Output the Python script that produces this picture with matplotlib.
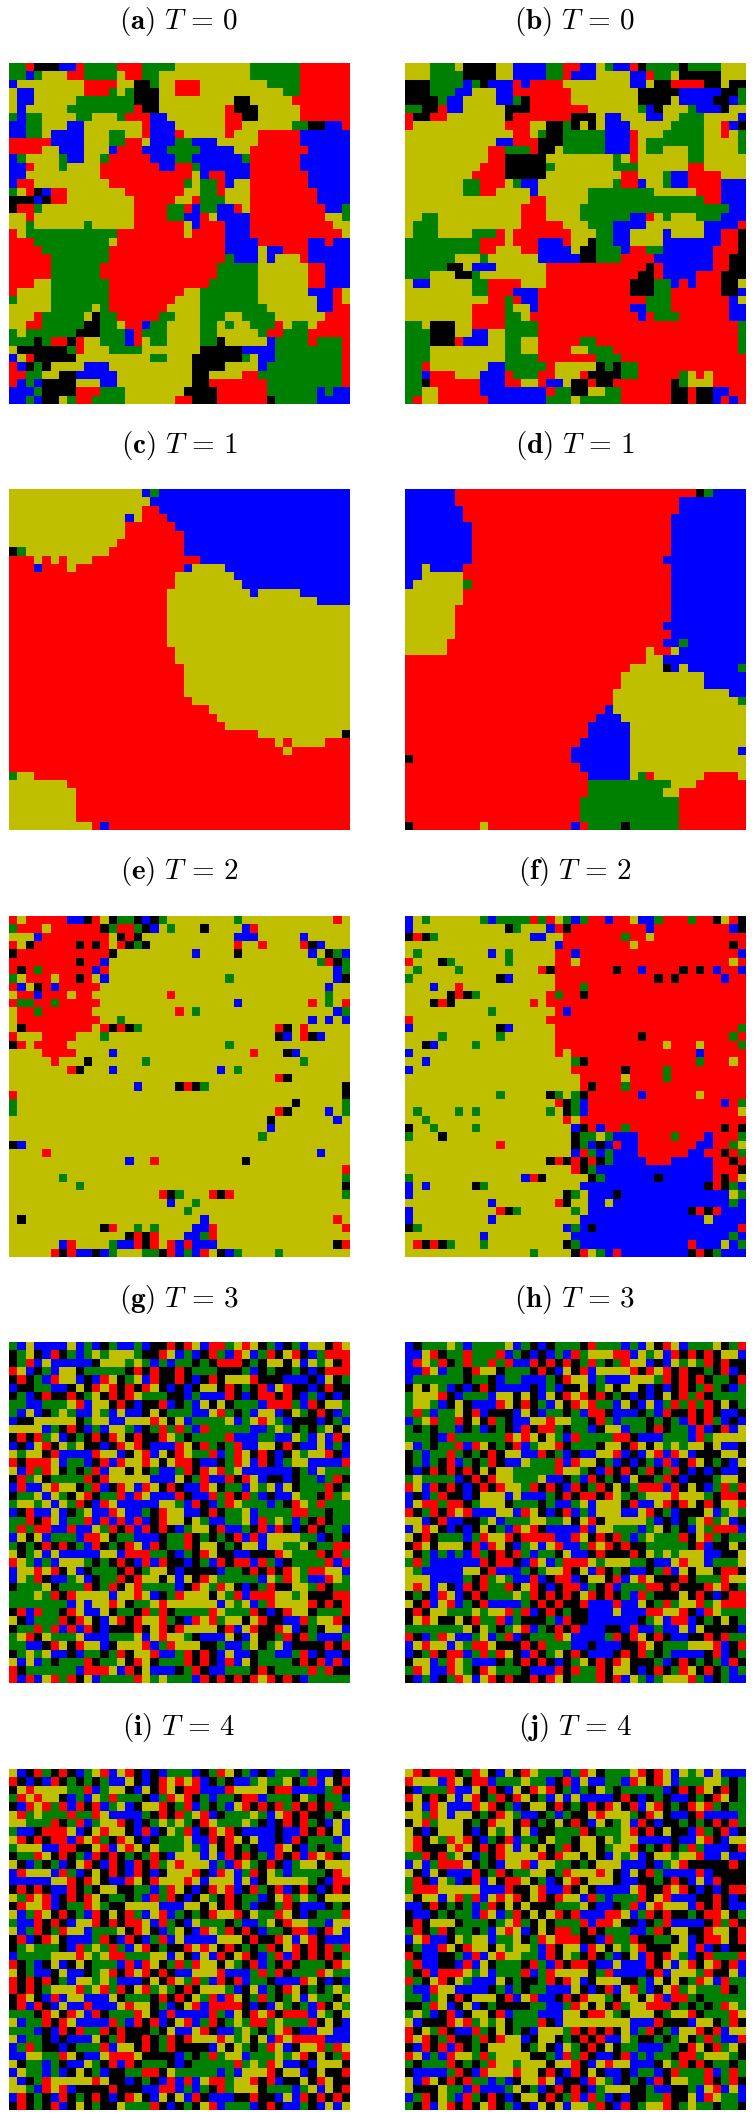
# -*- coding: utf-8 -*-
import numpy as np
import matplotlib
matplotlib.use('Agg')
import matplotlib.pyplot as plt
from matplotlib.colors import ListedColormap

# cell states, one letter per cell, spaces only to make the rows readable
STATES = 'yrgbk'
COLORS = ['#bfbf00', '#ff0000', '#008000', '#0000ff', '#000000']

PANEL_A = [
"gg r kkk bb r gggg rrr gggg yyyyyyyyy gggggg rrrrrr",
"gg b g yyy rr gggg y rr gg yyyyyyyyyyy gggggg rrrrrr",
"b yyyyyyyy rrrr yy kk g yy rrr yyyyyyyy gggg rrrrrr",
"y bb yyyyyy rrr g y g kkk yy rrr yyyyyyyyyy gg rrrrrr",
"y bb yyyyy ggggggg kkk yyyyyyyyy kk yyyyy rrrrrrr",
"y b yyyyy gggggggg r kk yyyyyyyy r kkk yyyyy rrrrrr",
"g b gg yyyy gg yyy g rrr bb yyyyyyy rr kk yyyyy rrrrrr",
"bb gg yyy bb yyyyyyy r bbb yyyyyy rr yyyyyy gg kk bb r",
"bb gg y bbbb yyy gg yy r bbb r yyyyy r yyy rrrrr bbbbbb",
"rrrrr bbbb yyy gg rr y bbb gg bbb yyyyy rrrrr bbbbbb",
"rrrr yy bbb yyy b rrr bbb gggg bbbb yy rrrrrrr bbbbb",
"b g yyyy g bb yy g rrrrr bbb gg bbbbbb g rrrrrr bbbbbb",
"bb r yyy g yyyy rrrrrrr bb rr g bbbbbb rrrrrr bbbbbb",
"bb yyyyyyyyy rrrrrrrrrrr y b rr bbb rrrrrrr bbbbb",
"b rr yyyyyyyyy rrrrrrrrr g y gg r b yy rrrrrrr bbbbb",
"g y r k b rr yyyyyyy rrrrrrr yy gg r yyy rrrrrrrr bbbb",
"kkk b k rr yyyyyyyy rrrrr yy r ggg yyy rrrrrrrr bbbb",
"k rr g yyyyyyyyyyy rrrr gg r b gg bb r y rrrrrrrrr bb g",
"yy r yyyyyyyyyyyy rrrr gg bb r y bbbb rrrrrrrrr yy g",
"yy g yyyyyy g yyyyy rrrrrr y b rrr bbb rrrrrrrrrr yy",
"r y ggggggggggg rrrrrrrr y rrrr bbb rrrrrrrrrrr y",
"rrr ggggggggg y rrrrrrrrrrrrr bbbb rrrrrr bb r bb",
"rrrr gggggggg rrrrrrrrrrrrrr bbbb y bb rrr bbbbb",
"rrrrr ggggggg rrrrrrrrrrrrrr g bbb y b yyy r bbbbb",
"rrrrr gggggg rrrrrrrrrrrrrr ggggg yyyyyy rr bbb",
"rrrrr gggggg rrrrrrrrrrrrrr ggggg yyyyyy rr bbb",
"rrr yy ggggggg rrrrrrrrrrrr gggggg yyyyyy rr bbb",
"r yyyy ggggggg rrrrrrrrr yy ggggggg yyyyyy bbb r y",
"g yyyy ggggggg rrrrrrrr yyy ggggggg yyyyyyy bb r y",
"yyyyy ggggg y g rrrrrrr yyyy gggggggg yyyyyy bb rr",
"yyy r ggggg y k gg rrrrr gg yyy ggg yy gggg yyyyyy rrr",
"yy rr ggggg kk gg y rr b gg yyyy gg y g yy ggg r y gg y rrrr",
"g y gggggg kkk ggg b r ggg yyyy gg yyyyy g rr ggg rrrrr",
"ggg k g rr k r yy ggg b r y gg yyyy gg k yyyyy b gggg r ggg r",
"y kkkkkk g r yyy gggg yyyyyyy kkkkk bbbb gggggggg r",
"b y r kkkkk yyyyyyyyy gg yyy kkkkkk g y bb gggggggg r",
"r b k g k yyyy bbb yyyyyyyyyy kkkk yyyy b ggggggggg r",
"rr gg yy kk bbbbb yyyyyyyyy kk yyyy rr gggggggggg r",
"r b g b kkkk yyy bb yyyyyyyyy kk rrrrrrr ggggggggg r",
"bbb g kkkk rrr ggg yyyyyyy kkkk rrrrrr gggggg b g bb",
"bb g b kk y g rr gggg yyyyyy rr kkk rrrrrr k ggggg bbbb",
]

PANEL_B = [
"yyy ggg y kkkk yy bbbb gg rr bb y g bb r k gggg k gggg yyy",
"yyy gggg kkkk yy bbbb gg r bbb yyyy bb r gg y kkkkk yyy",
"kkk gggg b g k bbb r b rrrr yyyyyyyy bb y kk rrrr kk y kk",
"kkk ggg bb yyy bb rrrrrrr yyyyyyyy kkkkk bbbbb kk g",
"kkkk g bb yyyy bb g k rrrrr yyyyyyyy kkkk y bbbb kk b g",
"gg kk r bb yyyyy kkk rrrrrrr yyyyyy g b k yyy g bbb k yy",
"r kk rr yyyyyyy k rrrrrrr kkk y bb yyy bb yy ggg yyyy b",
"r yyyyyyyyyyy rrr yy kk g k y k y bbb yyyyy gggg yy r b k",
"yyyyyyyyyyyyy rr y g kk ggggg bbb r yyy ggggg yy r y g",
"yyyyyyyyyyy bb rrr kkk ggggg bbb r y ggggggg yyyy g",
"yyyyyyyyyy rr ggg r kk y ggggg bbb r y gg yyy gg yyyy g",
"yyyyyyyyyy rr kkkkk yyyyyyyy g y r yyyyyy gg yyyyy",
"yyyyyyyyy rrr kkkkk g yyyyyyy ggg yyyyyy rr yyyyy",
"yyyyyyyy rrrr kkkkk yyyyyyyyy rr yyy g bb rrrr yyy",
"yyyyyyy gg rrr y g bb yyyyyyyyy g rr b yy g bb rrrr bbb",
"yyyyyyy gg rr yyyy b yyyyyy gggggggg yyyyy rrr bbb",
"yyyyyyyyyyyyyyy rr yyyyy gggggggggggggg rr bbb",
"yyyyyyyyyyyyyy rrr yyyy gggggggggggggggggg bb",
"yy gg yyyyyyyyyy rrr yyyy gggggg bb r y g yyy ggg bbb",
"y ggg yyyyyyyyyy rrrrr yyy ggg bbbb yyyyyyy bbbb r",
"y ggg yyyy ggg r y rrrrrrr yyy gg bb yyyy b yyyy bb rr k",
"ggggggggg rrr y rrr bbb r yy k gg bb yyyy bbbbbbb rr k",
"ggggggggg rr yyy rr bbbb y kk ggg b rr gg bbbbbb rrr k",
"gggggg yyy g yyyyyy bbbbb kk ggg rrrr bbbbbbb rr kk",
"ggggg kk y bbb yyyyyy rrrrrrrrrrrr k r bbbbbb rr kk",
"ggg yyy kk g yyyyyyyy rrrrrrrrrrr kk r bbbb rrr kkk",
"y bb yyyyy gg rrrr yyy rrrrrrrrrr kkk gg b r b rrr kk y",
"yyyyyyyy gg rrr bbb rrrrrrrrrrr kkk gg rrrrrr kk b",
"yyyyyyyyyy rr g r bb rrrrrrrrrrrrr ggg rrrrrrr b y",
"yyyyyyyy rrrr g yy b rrrrrrrrrrr bb ggg rrrrrrr bb",
"yyyyyyyy rrrr gg y rrrrrrrrrrrrr b r ggg rrrrrr bb",
"gg y kkk yy rrrr gggg rrrrrrrrrrrrrrrrrrrrrrrr g",
"ggg kkk yy bb yy gggg rrrrrrrrrrrrrrrrrrrrrrrr g",
"ggg kkk r bbb yy gg yy rrrrr gg rrrrrrrrrrrrrrrrr g",
"ggg yyyyyyyyy gg yy rrrr yy ggg rrrrrrrrrrrrrrr g",
"ggg yyyyyyyyy gggg rrrrrrr ggg rrrrrrrrrrrrrrr",
"gg r yyyyyyy bb ggggg r yyyyy k g k gg rrrrrrrrrrrrr",
"gg b rrr yyy bbb r ggg rr yyy r kkkk gg rrrrr g y r y rrrr",
"gg k rrrrrr bbb rr yy r bb y kk r kk rrrrrrr k g yyy rrrr",
"gg yy rrrrr bbbbbbbb r gg kk yy gg rrrrrr kk r kk bb rr",
"g r yy rrrrrr bbbbbbb ggg y ggggg rrrrrr kk r kk b r b r",
]

PANEL_C = [
"yyyyyyyyyyyyyyyy b g " + "b" * 23,
"y" * 17 + "b" * 24,
"y" * 16 + "rr" + "b" * 23,
"y" * 14 + "b y rrr" + "b" * 22,
"y" * 14 + "r" * 6 + "b" * 21,
"y" * 14 + "r" * 7 + "b" * 20,
"y" * 13 + "r" * 8 + "b" * 20,
"k g " + "y" * 10 + "r" * 9 + "b" * 20,
"rrr y r y r yyy " + "r" * 13 + "b" * 18,
"rrr b rrr y " + "r" * 13 + "b yyyy " + "b" * 15,
"r" * 20 + "y" * 7 + "b" * 14,
"r" * 20 + "y" * 8 + "b" * 13,
"r" * 19 + "y" * 10 + "b yyyyy bbbbbb",
"r" * 19 + "y" * 18 + "bbbb",
"r" * 19 + "y" * 22,
"r" * 19 + "y" * 22,
"r" * 19 + "y" * 22,
"r" * 19 + "y" * 22,
"r" * 19 + "y" * 22,
"r" * 20 + "y" * 21,
"r" * 20 + "y" * 21,
"r" * 21 + "y" * 20,
"r" * 21 + "y" * 20,
"r" * 21 + "y" * 20,
"r" * 21 + "y" * 20,
"r" * 22 + "y" * 19,
"r" * 24 + "y" * 17,
"r" * 25 + "y" * 16,
"r" * 26 + "y" * 15,
"r" * 30 + "y" * 10 + "k",
"r" * 32 + "y r yyyy rrr",
"r" * 33 + "y" + "r" * 7,
"r" * 41,
"r" * 41,
"g yy " + "r" * 38,
"y" * 7 + "r" * 34,
"y" * 8 + "r" * 33,
"y" * 8 + "r" * 33,
"y" * 8 + "r" * 33,
"y" * 8 + "r" * 33,
"y" * 10 + "r b " + "r" * 29,
]

PANEL_D = [
"b" * 6 + "r" * 29 + "k g bbbb",
"b" * 6 + "r" * 27 + "b" * 8,
"b" * 7 + "r" * 26 + "b" * 8,
"b" * 7 + "r" * 25 + "b" * 9,
"b" * 8 + "r" * 24 + "b" * 9,
"b" * 8 + "r" * 24 + "b" * 9,
"b" * 8 + "r" * 24 + "b" * 9,
"b" * 8 + "r" * 24 + "b" * 9,
"b" * 8 + "r" * 23 + "b" * 10,
"bb y bbbb " + "r" * 25 + "b" * 9,
"bb yyyyy " + "r" * 25 + "b" * 9,
"b yyyyyy g " + "r" * 24 + "b" * 9,
"y" * 7 + "r" * 25 + "b" * 9,
"y" * 7 + "r" * 25 + "b" * 9,
"y" * 6 + "r" * 26 + "b" * 9,
"y" * 6 + "r" * 26 + "b" * 9,
"y" * 6 + "r" * 25 + "b" * 10,
"y" * 6 + "r" * 26 + "b" * 9,
"y" * 5 + "r" * 26 + "bb g " + "b" * 7,
"y" * 5 + "r" * 24 + "y rr y " + "b" * 8,
"r" * 29 + "yy " + "b" * 10,
"r" * 27 + "yyyy k b y bbbbbb g",
"r" * 26 + "y" * 10 + "b" * 5,
"r" * 26 + "y" * 10 + "b" * 5,
"r" * 25 + "y" * 14 + "bb",
"r" * 25 + "y" * 15 + "g",
"r" * 24 + "b" + "y" * 16,
"r" * 23 + "bbb" + "y" * 15,
"r" * 22 + "b" * 5 + "y" * 14,
"r" * 22 + "b" * 5 + "y" * 14,
"r" * 21 + "b" * 6 + "y" * 14,
"r" * 20 + "b" * 7 + "y" * 13 + "b",
"k" + "r" * 19 + "b" * 7 + "y" * 14,
"r" * 21 + "b" * 6 + "y" * 14,
"r" * 22 + "b" * 5 + "y g r yyyyyy rrrr y",
"r" * 22 + "g" * 10 + "yyy rrrrrr",
"r" * 22 + "g" * 9 + "yy rrrrrrrr",
"r" * 21 + "g" * 12 + "r" * 8,
"r" * 21 + "g" * 12 + "r" * 8,
"r" * 21 + "g" * 12 + "r" * 8,
"k rrrrrrrr y rrrrrrrrrr b r gggg k gggggg rrrrrrrr",
]

PANEL_E = [
"r y rrrrr bb k r y k gg k b k g yyyyyyyy g yyyyyyyyyyy r y",
"g rrr y rrrrrr k g rr g k b y g yyy k yyyy b r yyyyyyyyyyy",
"yyy b rrrrrrrr y k r k yyyyyyyyyyy bbb yyyyy b yyyyy",
"r y k rrrrr k r k r y r k g k yyyyyyyyyy r yy r yyyy r k b yyy",
"k rrrrrrrrrrr k yyyyyyyyy b yyyy k yyyyyyyy b y k g b",
"rrrrrrrr k rr b yyyyyyyyyyyyyyyyyyyyyyyyy g r k g",
"r k r g rrrrrr b r yyyyyyyyyyyyyyyyyyyyyyyyyyy b g",
"g y rrr y rr k r y b yyyyyyyyyyyyyy g yyyyyyyyyyyy b k",
"r b y k r b rrrrr yyyyyyyyyyyyyyyyyyyyyyyyyyy b yy",
"y rr b rrr y rr yyyyyyyyy r yyyyyyyyyyyyyyyyyy g yy",
"r gg rr g rrrrr yyyyyyyyyyyyyyyy b yyyyyyyy r y g y r",
"y rr g rrrrrr yyyyyyyyyy r y g yyyyyyyyyyyyyyyy b g",
"y rrrrrrrrrr yy g yyyyyyyyyyyyyyyyyyyyyy b y b y b",
"y k rrrrrrrr y r k r k g yyyyyyyyyyyyyyyy r k y r yyyyy",
"r yyy rrrr yyy g yyyyyyyyyyyyyyyyyyyy k b y r k b yyy",
"k r y rrrr yyyyyyyyyyyyyyyyyyy g yyyyyyyyyyyyyy",
"yyyy rrrr yyyy b yyyyyyyyyyyyyyyy r yyy k b yyyyyy",
"yyyyy r yyy k yyyyyy g yyyyyyyyyyyyyyyyyy g yyyyy",
"yyyyyyy r k yyy b yyyyyyyyyyyy b y g yyyyyyyyyyyyy",
"yyyyyyyyyyyyyyyyyyyyyyyyyyyyyyyy r k yyyyyyy",
"yyyyyyyyyyyyyyy b yyyy k r k g yyyyyyyyyyyyyyyy k",
"r yyyyyyyyyyyyyyyyyyyyyyyyyyyyyyyyyyyyyyy k",
"g yyyyyyyyyyyyyyyyyyyyyyyyyyyyyyyyy k yyyyy g",
"g yyyyyyyyyyyyyyyyyyyyyyyyyyyyyyy r k yyyy b y g",
"yyyyyyyyyyyyyyyyyyyyyyyyyyyyyyy k yyyyyyy b y",
"yyyyyyyyyyyyyyyyyyyyyyyyyyyyyyy b yyyyyyyyy",
"yyyyyyyyyyyyyyyyyyyyyyyyyyyyyy g yyyyyyyyyy",
"k b yyyyyyyyyyyyyyyyyyyyyyyyyyyyyyyyyyyyyyy",
"yyyy r yyyyyyyyyyyyyyyyyyyyyyyyyyyyyyyy b yyy",
"yyyyyyyyyyyyyy b yy r yyyyyyyyyy k yyyyyyyyyyyy",
"yyyyyyyyyyyyyyyyyyyyyyyyyyyyyyyyyyyyyyyy r",
"yyyyyy g yyyyyyyyyyyyyyyyyyyyyyyyyyyyyyyyy g",
"yyyyyyyy g yyyyyyyyyyyyyyyyyyyyyyyyyyyyyyy k",
"yyyyyyyyyyyyyyyyyy r k g yyy r k r yyyyyyyyyyyyy g",
"yyyyyyyyyyyyyyyyyyy b yy g yyyyyyyyyyyyyyyyyy",
"yyyyyyyyyyyyyyyyyyyyy g yyyyyyyyyyyyyyyyyyy",
"y k yyyyyyyyyyyyyyyyyyyyy b yyyyyyyyyyyyyyy r y",
"yyyyyyyyyyy k r yy g y g yyyy bb r yyyyyyyyyyyyyyy r",
"yyyyyyyyyyyyyy k r k r yyy bb g r yyyyyyyyyyyyyyyy",
"yyyyyy b r yyyy g bb r k r y r b r bbb yyyyyyyyyyyyyy k r",
"yyyyy r k r bb k b g yyy gg k r b g b r y k b g yyyy g yyyyyyyy",
]

PANEL_F = [
"b y g yyyyyy g b gggg r g r y g b g rr b rr y bb g rrr g rr k y r k",
"b yyyyyyyyyyy k g yyy b r k rrrrrrrrr b rrrrrrrrr b k",
"k r k g yyyyyyyyyyy bb yy rrrrrrr g rr y rrrrrrrrrrr",
"yyyyyyyyyyyyyyyyyy b rrrrrrrr y rrrrrrrrrrr k r",
"y g yyyyyyyy b y g yyyyy rr b rrrrrrrrrrrrrrrrrrr b",
"r yyy k g yyyyyy g yyyyy rr y rrrrrrrrrrrrrrrrrr y r",
"y g yyyy g yyyyyyyyy r k rrrrrrr k rr b rrrr k r k r b rr b",
"g yyyyyyyyyy k b yyyyy rrrrrrrrrrrr k r k rrrrr b rr",
"yyy b yy r yyyyyyyyyyy rrr g rrrrrrrrrrrrrrrrrrr",
"yyyyy k r k g yyyyyyyy r g rr k rrrrrrrrrrrrrrrrrrr",
"yyy k r k yyyyyyyyy r y rrrrrrrrrrrrrrrrrrrrrrrr",
"yyyyyyyyyy g yyyyyyy r b rrrrrrrrrrrrrrrrrrrrr",
"r yyyyyyyyyyyyyyyy rrrrrrrrrrrrrrrrrrrrrrrr",
"b yyyyyyyyyy k b yyyyy rrrrrrrrrrrrrrrrrrrrrr g",
"yyyy g yyyyyy g yyyyyy rrrrrrrrrr k rrrrrrrrrr g r",
"yy k b yyyy g yyyyyyyyy rrrrrrrrrrrrr y rrr y rrrr g",
"b yyyyyyyyyyyyyyyyy r y rrrrrrrrrrrrrrr b rrrrr",
"yy b yyyyyyyyyyyyyyyyy g k rrrrrrrrrrrrr g rrr y r",
"b yyyyyyyyyyyyyyyyyyy rrrrrr k rrrr g rrrrrrrrr",
"yyyyyyyyyyyyyyyyyyyyy rrrrr y rrrr g rrrrrrrrr",
"yyyyyyyyyyyyyyyyyyyyy r k rrr g rrrrrrrrrrrrrr",
"yyyyyyyyyyy g yyyyy k g y g k rrrrrr b rrrrrr y rrrrr",
"yyyyyyyyyyyyyyyyyy r k g b rrrrrrrrrrrrrrrr b r g",
"y g yyyy g y g yyyyyyyy g y k g b rrrrrrrrrrrrrrrrrr y",
"yy g yyyyyyyyyyyyyyyy r y rrrrrrrrrrrrrrrrrrrr",
"k yy g yyyy g yyyyyyyyyyy b k r b rr g rrrrrrrrrrr k r k",
"g yyy k yyyyyyyyyyyyyyy k gg y g bbb rrrr g rrr b rrr g",
"yyyyyyyyyyy r yyyyyyyy k g b k b r bb rrrrrrr bb rr g y",
"yyyyyyyyyyyyyyyyyyyy b r g b g bbb rrrrrr bb rr k r g",
"yyyyyyyyyyyyyyyyy k r k r k r k g bbbb rrr bbbbb rr k r",
"yyyyyyyyyyyyyyyyyyyy r k g bbbbbbbbbbbbbb rrr k",
"g yyyyyyyyyyyyy b r k yyyyy k g bbbbbb k bbbbbb r k r y",
"b y b yyyyy k g yyyyyyyyyyy bbbbbbbbbbbbbbb k r k g b",
"b yyyyyyyyyyyyyyyyyy k g y bbb k bbbbbbbbbbbbb y g",
"yyyyyyyyyy b yyyyyyy r k yy bb y bbbbbbbbbbbbbb g b",
"b yyyyyyyyyy r k g yyyyyy g y bbbbbbbbbbbb k r k r bbb",
"b yyyyyyyyy b yyyyyyyyyy bbbbbbbbbbbbbbb y bbbb",
"k g yyyyyyyyyyyyyyyyy b g b k bbbbbbbbbbbbbbbbb r",
"yyyyyyyyy b yyyyyyyyyy bbbbbbbbbbbbbbbbbbb g b",
"y r k r k g yyy g yyyyyyyyy k g bbbbbbbbbbbbb r bbb y b g",
"yyyyyyyyyyyyyyy g yyyy k r y g b r bbbbbbbb k r k g bbb",
]

PANEL_G = [
"g b y bbbb y b g b k g bb g b kk r k r y b rr g y r y k g b k g b yy k r y",
"k g y k b r k g b g y g yyy g kk r y b g b k r g b r y b g r k y r k b g r",
"k g r b y bbbbb k yyy g y g b g b gg k g k rrr k g k yy k y b y g y k r y",
"r y b k g b yy k ggggg k r k r kk r k ggg kkk g b k g kk g k b k rrr g r",
"k r k g b r yy b k b r y k g y b r kk r k b k r k yyy r kkk bbb k b y k g b",
"b kk gg bb k y k r y r k r k r y k b k b k yy k r k g k r b y r kk b k r kk r",
"k g b k r kk r k g y k r k r y ggg kk b g bbb r k b k rr k r k b g b k b k rr",
"gg bb ggg y r b yy k r k b kk r b k g b y k y k ggg b rrr g b r k yy g",
"g b y b k g y g bb y g b y bb k y k ggg bb y r g k g b yy b k y g k r k b g b",
"b kk yyyyy k g yy bb yyy r y k y b gggg y b g y r y g b kkk b k g b k r b",
"yyyy b g k r k b g b yy g b k g r g r g b r ggggg bb g y g k g k g y k y r",
"k r k r g y b k g k r k r y k r kk r y g k gggg r bbb gg bb y g b y b r k",
"b k b y r k y g y kk b k r y r k bbb r y k r g k g r bb yy k r k bb y b g b",
"y g yy k r bbbb r yy b k y r b y k r y gg r b g r y k r k b k y g yy r k bb",
"r k rrr y b gg b k r b r yy r y k y rr k bb k g r y b r k b g yy bbbb r",
"y b r g r y k g k g r b yy k y k g bb g r k r y r g y b bbbbb k g b y ggg y",
"k r g y k gggg r k r yyyyy bbb y k g r bb r k r y b k k b k gg b g r k r y r",
"b r bb y r yy k g r b k r y b r y k r k bb r y k gg b y g y b y k ggg r k g g",
"k gg y b y g k y r k gg r b r y bbb r k bb r g r k r g b k bb y gg k r g y r",
"g yy g y b y g r k b r y bbbbb yy g b r k b g r y ggg b g k r y g r ggg k b",
"b k r bb y b k g y bb r y bb g k r yy bb k r k gg y b gggg rr gg k gg",
"gg r k r y b gg r b r b r b r b k r yy k y g bb g g y b r g y g b g k r k gg",
"g r g rr bb r bb y g r k r b r k r k b g yy k r bb g k r b r k b k r k gg b",
"b y k y b ggg b rr y k gg bbb k gg r k g k g k r b r b yyyy gg b k g k g",
"g k g k r k r k g b r k g k r y b r k gg r k yy k g k yy b yy gg y k gg r",
"y k g y b y bbbbb yy b rrr gg k b g k r y kk bb kkk r y ggg r k r g b",
"r y g b g b yyy g k g k r k b r b r kk b k g b r k rr b r g b k gggg r b rr",
"b yy r y r k y b k ggg k r k g yy k b kkkk b gg k r k r k r y g rr yy b",
"b y g r k bb g y b k gg r k r yy k y b y k r y ggggg b y g r y g bb r y g",
"k ggg y k ggg r k g r k y r gggg b k r y g r y k b k g r kk yy g r k ggg",
"ggg y g r k r yyyy b yy r y b k g r yyy k y g r b rrr yy g y kkk r",
"ggggggg b y b yy r y k gg y r yyyyyy b y g y b g r y yyy r k r k r",
"k r b r gg k r y bb y k gg k r g r k gggg r y ggg r k b k r yy k ggg r k r y",
"y k b ggg r k r y k b y r k r yy r g k b r y r g yy k y r kk bb r g yy r k y",
"k gg r g r b r b r k b k kk r k y r k r yyyy k r b y r kk r y b k g k yy b",
"g y r k y ggg y bbb ggg y b y r yy g k bbb y k b y kk g r k r g bbb g k b k",
"gg bb k r y k r yy b k yyy r b g r yyy kk g bb g y k g y b kkkk r k r",
"k g y g y bb k b gg k g r k yy r bb g r k r k b y bb k gg bb g r b k bb k",
"y b y b g k ggg r k gg y k r y k ggg r k r k b r b y k gggg k r k r b r bb k b",
"r k gggggg b rrr y b r k y bbb k g r k bb ggg k r k gggg r g r kkk b",
"r b r b y r g r k y b gggg r y g y ggg b r k r k r k r y r k r k b gggggg",
]

PANEL_H = [
"b k ggg y g b gggg y b g k b k ggg k r ggg b g b y k r y b ggg y k g r bb y k b",
"bb y r k gg r ggg r b g k b k b g b r g yyy rr b y g y b r k r k r k yy b rr",
"b r y g r k g r gg r g r bb r k r k r k g r g k g r yy b k b y g y g r k r k",
"bb r y b gg k r yy k ggg k r k b y k r b yyyy r k r y r k r kk g k r b k r y",
"b gggggg k gg k b gg bbb g k r yy b g bbb yyy g r k r k r k gg k rrrr y b",
"k y k y g b k b k r k bbbb k b g b kk y k g y k yy k b k b k r k g r g k b g",
"g y y y r k b ggg b y y k y k b y k r y r k r k g k b k b k y k r g r k g",
"g yy g b k y k bbb r y k r k g b y k r y r gg b y k b y b g r g r g r k y k g",
"g r g b gg y k r b k kk b y k b gg k g b r r k bbb k g b r kk r k r k bb k k",
"b g y r gg r k y k r g k bb yy r yy gg k r g b ggg k g k g b r k r g b k b k bb",
"g k g k gg b k g b k g k b r k rr g k gg b k yy b gg k r k g g b r b k r b yy",
"ggg k b r gggggg r y r y k y g b r gggg rr k bbb ggg b r g yyyy k r k g",
"y b g k gg r b r y k g k r b g yy r k ggg k yy k r y k y g y g yy k y bb k r y",
"k g b gg r g k g k r k yy bb r k g b k bb yy r b k b y r b r y b kkk yy k g r",
"k g b g k r b g k g r k bb y ggg r b r yy k g b k b k g b r b k r y k g k b y",
"k b k r k r k r k y k yy ggggg r yy g k b r k r k g r k g r k b k b k bb k b",
"g y gggg b k r k r yy ggg y bb k g b r k g k b y kk g r k b kk k g y y k k r y",
"r y b r k r k b k r k r yy g r k r k b r k g r k y k g rrr b r k y k b g r g r",
"b k b g r kk b k yyy b y bbb g k r k r r k r y g k g yyy r yyy g k rr k r k b",
"b y rr g rr k g yyy k ggg k g bb g y b yyy k r bb y r k r y k r k yy r b y",
"r k g r k r y r bbb yy b r y k b k r b g b yyy bb y r k g b kkk y b g y ggg b",
"yy b k r bb kk g y b ggg yy gg y k y r k yyyyy g b k b k g y r g y b k rr",
"b y r y k b k b k y k g b r y r k bbbb r b yy ggg b g y k g k b y g rrr b y b",
"y k r k ggg b g r yy r k rrrr bb r y k r k r g b g y ggg r k y r g k gg r",
"k r y k yyy k r b r y k b g y b y r bb g r y r k r k k ggggg k r b kk y kk r",
"y k g b g b g b r g k r k r g b gg k y bb k r kkk r k y g y g yyy b b kk y g g",
"g r g bbbbbb r k r r k b r y b g rrr y g yyy gg k bb y r yy b ggg yy k r k",
"y g bbbbb yy k r bbb g k g yy r k y b r k g k bb k g r b y k yy k rr k y",
"yyy bbbb g k r g y g bb r b k rr b k yy k r b y r y kkk r k ggg r yyyy",
"y r y b y k b r k r gg r k y r k b k r r b g k r b ggg rr k r kkk r y r k g b",
"k g k b r y b k r k ggg y g r k r k r k y r k r k g b r g kk k y k r k b k rr y b",
"y k r b y r b g k r bbbb g k r k r kk r b bb r bb y k g r g yy r g y rrr k yy",
"k r k yy ggg y g yy r g r b k r k g kk bbb y bbb rr yy r k b r y g g g y",
"k y r y k k y k r gg r b g kkk g b r kk bbbbbb k g y b rr b k g k y k g b y b",
"ggggggg y k y g k g y r b g k r k r b bb kk b r bb g bb y b y kkkk b y kk ggg b",
"r k b g r y bb g y b g r b k ggg r y bbbb g r k r y k r k b b k k r k r g",
"b y r yy b y g rr y kkk r k r ggg bb k bbb kk r y k ggg yyy r b k r k b y",
"b k g r k rr b g r g r y k b r k g y k r k bbb k r k r g k g bbbb k r b k g",
"k yy b g r y g bbb k g k r k r k b k g y k r k r y kk k g b k r k g k g b r k",
"g r y bb r y g k r y ggg k bbb r k r gg r k yy k b k r k g r y k r k g b g y r",
"k b g b k g r y b y r k r k k r k r y k ggg r k r b y g b g yyy r g b k g bb y",
]

PANEL_I = [
"y b k r g k r k b g y r b y r k b k b ggg b k g r y k g b k b ggg b g bb k bb",
"r k b k b r k g k g k g bb y k b k r y r y r b k g k bb g y gg y k g r b y k r",
"k y r yyyy gg r b g yy k b y k r y k rr bbb r yyyy k rr bbbb g r k",
"g r y r yy k b g b y g r ggg k b g r y r k g b gg k rr b ggg k y g k gg b",
"k b r y r g r b r k r b g y b k yy r k g r b g k g b y r k r k r g r k r k r gg",
"y r g y ggg r gg r y b bbb g k r k r g y r b k ggg y g b y r k r k k g k y gg",
"yy ggg r k g r b g yy r k b k g y g y g k r y ggg y g k b k r k r g k b y b k",
"g bb k r rr y b k y r yy k b r b k y g r b k r y r k b bbb k bb r k r k y b k g",
"y r k r k rr b r y r g k r y k b k ggg y bb r k r y k y bb k b r k ggg b y r k",
"g yyy bb rr kk y r b y r y k y ggg y g b y k r k g k bb r y k b g k gg y k",
"k gg r y k r k g b r k r k g k g r k b y yy b y b r k r k g b r k r b r y r k b",
"y k b g k g b k y r k b r k b r k r g y r y yy b g b r y g k r k b g yy k yy",
"b r yyy b r g b k y k r k b r k b k yyy r k b r y b g r k y g b gggg k r y",
"bbbbb yy r k r y k bb r y k r yyy r y b yyy b y b k yyyyy g k b r",
"k r k r k bb r k g k yy kk gg b g r y k b k r y r b k r g k r b k r k b k r k b",
"y g r y r b k r k r y k gg k g b r g r k b k y g k r k g g b k y r g y g k y",
"k r yy r b k gg r y g kk yyyy bbb yy k y k r k g b kk g r k bbb k g k r b",
"y b g r y k r k g b r k y k r g b y r b g k g k r yy r k y gg r y k b k ggg r g",
"g bb r k r k b yy r k r k rr y b r g k b y ggg k g bb g y k r yy gg b yy k y",
"y b g r k g r yy b ggg y k r y k b g y k b r y g r k r k b gg k rr b k r y b k yy",
"k r b k r y k bbb g r k b r k b g r b y bbbb yyy k r kk r y b y r k bbb g",
"k g y ggg k b r g y g r g b y r k g kk r y r y k r k g k g r k y r k r k r g r",
"b gggg yyy r y g y r r ggg yy b y k b y b r k y r k b g r b r k r k r k g b k r",
"r k g b k y b k y k ggg b r b r y k g r g r y y k y g k r b g k r k ggg k r y k",
"y k g b b k y bb k g y r k r y r k r k b b yyy r bbb g r g r k gg g r y gg r bb",
"r k r k r k g b y y g y g bbb k y k r y g r g b r k r b gg k bbb r y k b k b",
"r k r k g yyy r g y r g r k y r g y g k r k yyy g b k y b g k r y k g k g y g r g",
"k r y k b r b yy bbb y k ggg k r k r k y g r b r y k g r g k g y b y gg k y ggg",
"k r b r k b y bb r bbb y r yy k g b k y r b rrr r k b k b y g k g b r k y g y",
"ggg k r y k r y b r k ggg r y k b r bbbb r g b y k r y r k rrr b y g k y r k b y",
"y b gg r k r y b bbb r g b r k r b k y r b g r k g y g rr g y ggg r k y k b k r r",
"ggg b k b r k r gg r k r kkk g k y bb y r k bb g y g k g y r k bb y y bbb k b",
"y b gg k b k bbb y k g r kk r k g r k r yyy r y g y k y b r y rrrr bbb k b",
"b g r g kk b k ggg r b y y k r k g r k kkk b y k y g k g r y b k yy r g r y kkk",
"bb yy g g r y k bb y r rr y k k kk b g k g r g yy b ggg y g y r k y k g r y k y",
"y k gg b g k bb y g k r b r k ggg k b k g gggg r g y g r y b b k b y y y k k y k",
"b y gg b g b k y k g b k k gg rr k y ggggg b g b y yy r k y y b k y kk r k r y",
"y b k g r yyyy y r y k k b k g k b r b r b y r r g yy r k r b k k y k r y k kk",
"yy g b r y r b k kk k r k k k bb r r b g b g k r g yyy k ggg b g y b y k r k kkk",
"b r k g k b r k g k r k b k r y k b y k y b r k bbb k k r k k b y b r k r k r k r",
"k r k g k r b k y k g kk y ggg r k b k g k y r b ggg b k r k bb g k b y b y k",
]

PANEL_J = [
"y r k rrr k g r y k b y k r y ggg b g r y k ggg y r k r y b y g y b y bbb",
"r yyy b r y k rr b ggg y gg b k r b y bb gg b r y k r y b ggg yy g k g r",
"k b ggg r bb y k r k b y k r y r k g b g k y g k ggggg b k r k r y k r k gg r k",
"r y k r k y b y r k g r k r y k g b y b y bbbb k r k b k g k bb k g k r y k g bb",
"k y b r y bbb r y r k g b k yy k r k g k r k r y k r b y r k g k r y r g k gg r",
"yy g r y b yy k g k r y g bb k g b g k k y r yy y g k r y k bb k r bbbb g k r",
"k y r g yyy k g k r yy k r k g k y k r k b y k g y b r k b k k g k g k r k r gg r",
"y k b k yyy k b k y g y k y b k k ggg r k ggg y r k r k y k k b r g k r b k y r y",
"y r k y g r y r k b g k r b gg k y gg k yy k y g yy bbbb k bb y r k b y y g bb",
"y r kkk y r y k r k r y b y k y k g r k yy k g yy r k g k r k g r g bbb k r",
"gg r k r g y k b g k r y yyy r k r y y k y k b y g y b k yy g yy r bb y b",
"b y b g r rr y k g k b y y r b yy g g k g k yy y bbb k b g y r kkkkk r k r k",
"y k b y k bbb r k g r k gg yy k g r yyy r y k b y k r g bbbb r b k",
"g r k b y g b k r b y k r r y k g b k y r k y yy k bb k k g k r k b y b r k",
"g rrr yyyyy bbb r kk y r bb r k y k bbbb y r k k r y r k b k b k r",
"y k yy b y r g r b y r y r k y r k r yy b r g b ggg r k y r b bb k k r k b k b y",
"bb k r k g k g b g r k y k y kk k ggg y k bb k g r b y r yyy b r k r k b",
"k bb k g k gg b r y b g r k y k y r k r bbb rr y b g r k r k k g k rr y k g y",
"k r k yyy k ggg k g y r g k y k ggg r b rr y k k b k g r b bbb k r g r k g k",
"g r k g r k gg k g b y r y b k y k r r g k r k ggg bb g r k yy k k r y y k r k y",
"b y r bb k y g yy b gg y k g r y r rr k k b r gg r kk gg k y b k rr y k r g r",
"k g bb r y k r yy k y g y y g b r k yy b r y k y g y r k k k y y b r b k b k k",
"r k bb kk g b r b y r yy gg b r k y g k r k g b k y b r k r y g b k r ggg r k g",
"g r bb k k b r b y k ggg k r g b r k rr k b b y bbb r k y b y r k y r k r b k g",
"g k r b rrr y g y b ggg r b g r y yyy k g r bbbb k r b y yy g r kk y b r k r g",
"r g k y r k y g bbb y k g kk g r k r y b k yyy k k g b y k y k g r y b r g g bb",
"g bb r yy bbbb k g b g k gg bb b y k b k r b y r g b k y r g y ggg r k g y k",
"gg b g y k r k yyy k r b y r b b k r k r y y g k yy k y r b r r g k ggggg b y k",
"kk g r y b k y b k g kkk k gg b b g r y k y k r g yy rrr k g k g k g r y ggg r k",
"g y g b k r b k y y k r b ggg bbb yy k r r y g k y yy k g yy r k gg g r y r k g b y",
"y b kkk r y r g y g y k ggg r k b yyyyyyyy bbb r k kk b yy k g r k k k g b",
"r k y g r k b b r g k y k g k b yyy g r k r k r k y b g r k g b yy r k r b y y",
"r y r k g r k k g r k r yy b k yy k g k r k r bb y g k k g k g y k g r g bb r r",
"k b r k r b r k g k yyyy k g y k b y g k r k y k g g b bb gg k r y k r g y k g",
"r y b g b r y y g r g yyyy k k g b r g r k bb k r b g b gg k rr g y yy g k gg",
"g k ggg r k g k g r yy g yyy k yy r k b y r yy b bb k y g r k r k gg k g b y k",
"k bbbb g r k b r y yy r y y k r k b r k y k bb k b gg b k r ggg r b g r g y y",
"y b r y k r k r gg b g b k y y r y b k k b r y g b k g k b r k yy g g r k g r k",
"y kkk y gg b r bbb g y k g b k r k r k b g y yy k k g bb k k g b y r b y b g k",
"b g r k y g b r g k r k b k yy k r k g r b r g b k b k k gg r k k y b r y gg bb",
"g k r b y r k r k y r k g b k b y k y b yy g r k b r k g yy r k g y gg k gg k",
]

PANELS = [PANEL_A, PANEL_B, PANEL_C, PANEL_D, PANEL_E,
          PANEL_F, PANEL_G, PANEL_H, PANEL_I, PANEL_J]
LETTERS = ['a', 'b', 'c', 'd', 'e', 'f', 'g', 'h', 'i', 'j']
TIMES = [0, 0, 1, 1, 2, 2, 3, 3, 4, 4]

W, H = 754, 2118
NCELL = 41
cmap = ListedColormap(COLORS)


def to_grid(rows):
    grid = []
    for row in rows:
        row = row.replace(' ', '')
        row = row.ljust(NCELL, row[-1])[:NCELL]
        grid.append([STATES.index(c) for c in row])
    return np.array(grid)


plt.rcParams['mathtext.fontset'] = 'cm'
fig = plt.figure(figsize=(W / 100, H / 100), dpi=100)

left_x = [8.5, 404.5]
top_y = [63, 489, 915.5, 1342, 1768.5]
title_y = [22, 445, 872, 1300, 1727]
size = 341

for i, rows in enumerate(PANELS):
    col = i % 2
    line = i // 2
    ax = fig.add_axes([left_x[col] / W, 1 - (top_y[line] + size) / H, size / W, size / H])
    ax.imshow(to_grid(rows), cmap=cmap, vmin=0, vmax=4, interpolation='nearest', aspect='auto')
    ax.axis('off')
    fig.text((left_x[col] + size / 2) / W, 1 - title_y[line] / H,
             r'$(\mathbf{%s})\ T\,=\,%d$' % (LETTERS[i], TIMES[i]),
             ha='center', va='center', fontsize=21, color='black')

plt.savefig('out.png', dpi=100)
